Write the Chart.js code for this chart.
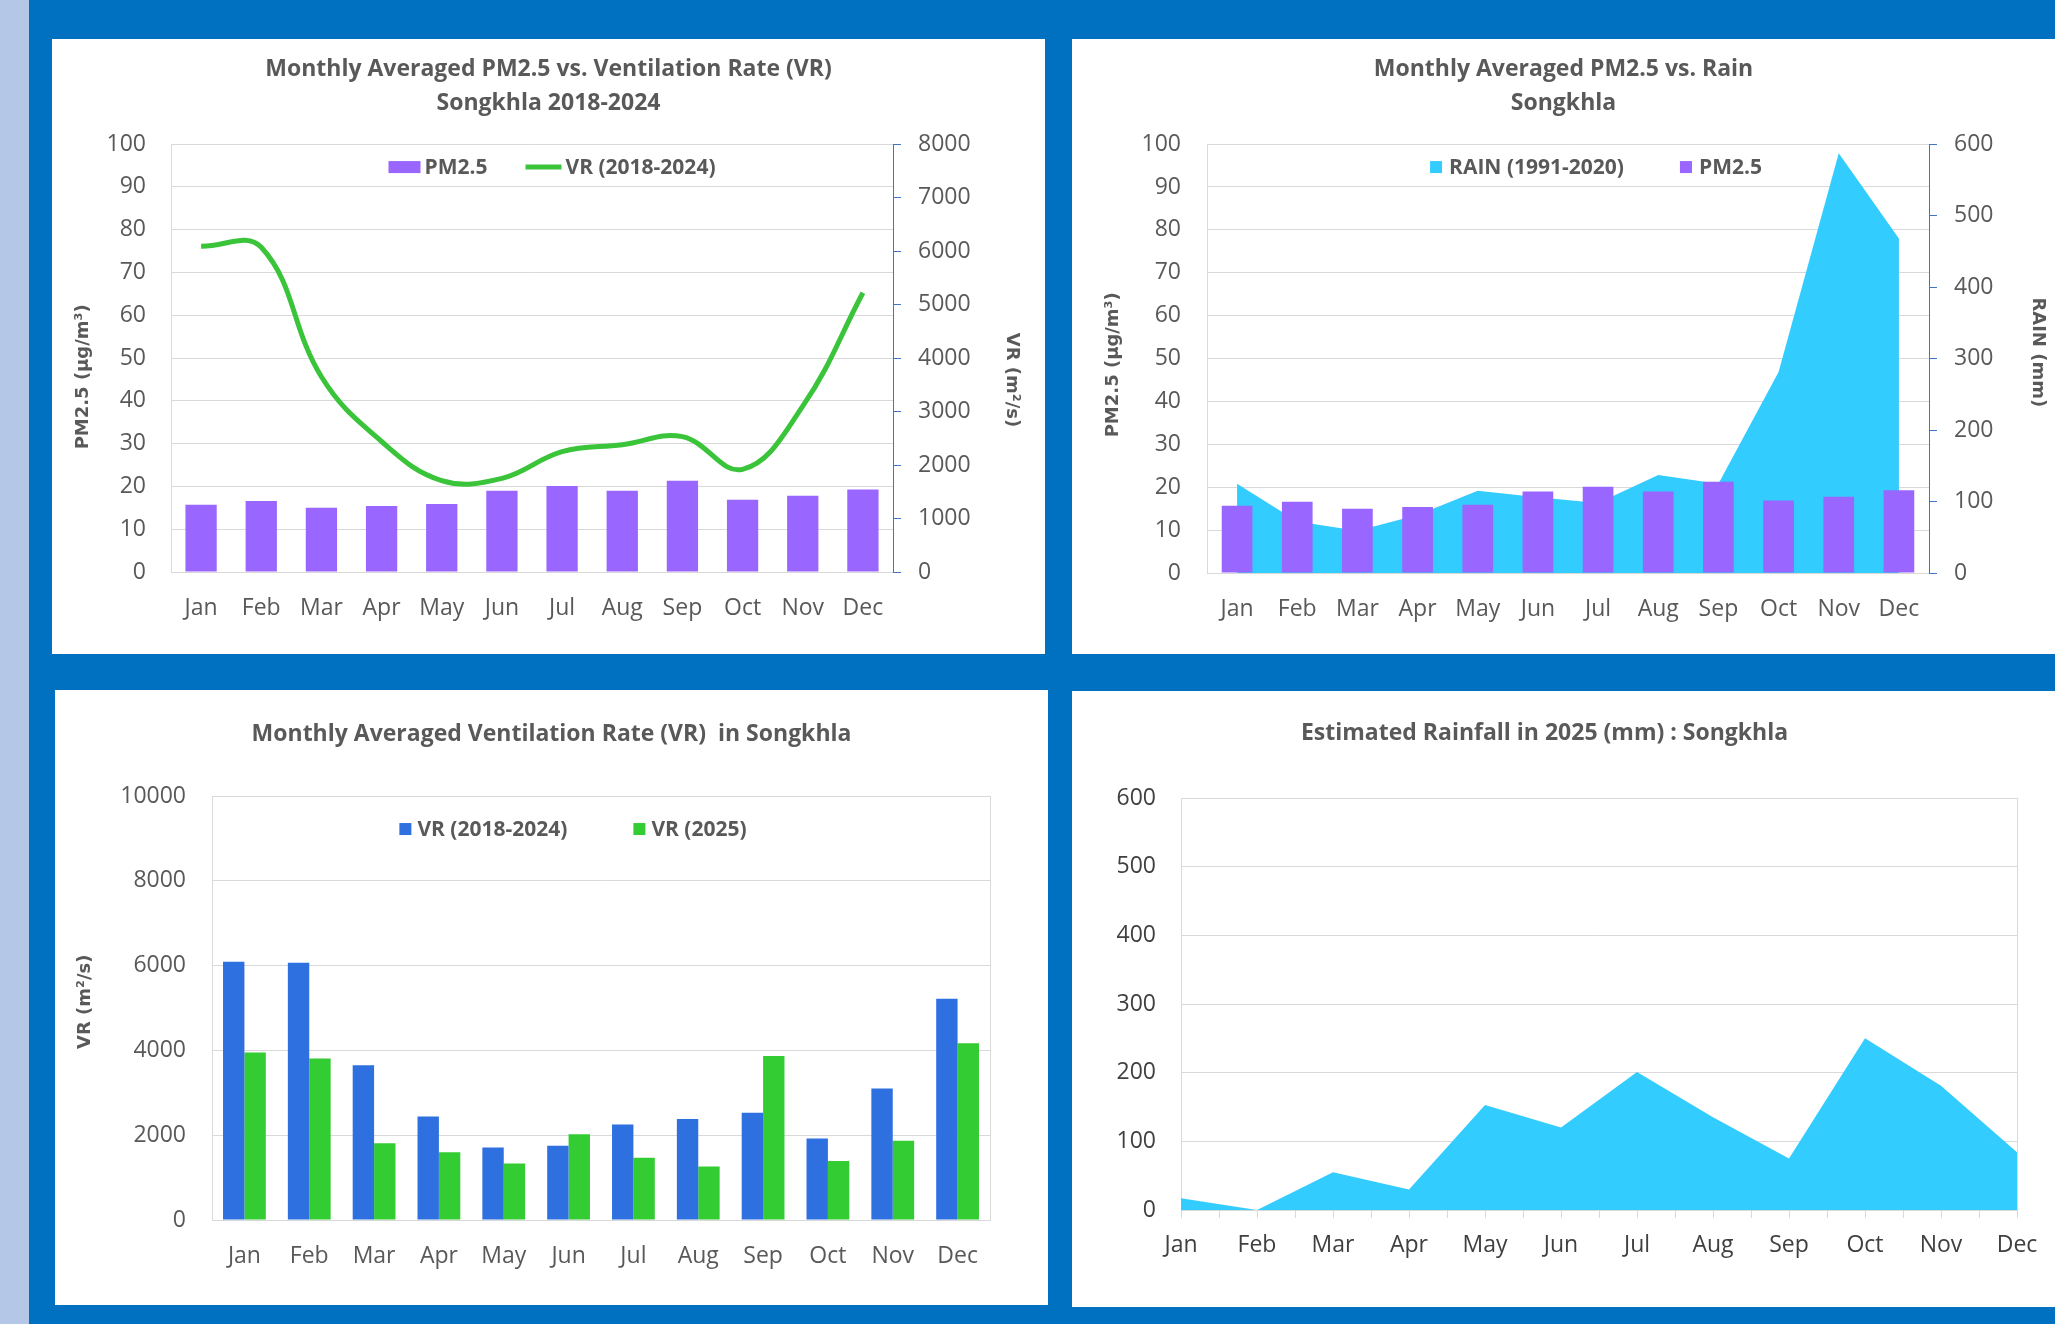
<!DOCTYPE html>
<html><head><meta charset="utf-8">
<script src="https://cdn.jsdelivr.net/npm/chart.js@4.4.1/dist/chart.umd.min.js"></script>
<style>
html,body{margin:0;padding:0;width:2055px;height:1324px;overflow:hidden;background:#0070c0;}
#strip{position:absolute;left:0;top:0;width:29px;height:1324px;background:#b4c7e7;}
.panel{position:absolute;background:#fff;overflow:hidden;}
canvas{display:block;}
</style></head><body>
<div id="strip"></div>
<div class="panel" style="left:52px;top:39px;width:993px;height:615px"><canvas id="c1" width="993" height="615"></canvas></div>
<div class="panel" style="left:1072px;top:39px;width:983px;height:615px"><canvas id="c2" width="983" height="615"></canvas></div>
<div class="panel" style="left:55px;top:690px;width:993px;height:615px"><canvas id="c3" width="993" height="615"></canvas></div>
<div class="panel" style="left:1072px;top:691px;width:983px;height:616px"><canvas id="c4" width="983" height="616"></canvas></div>
<script>
const months = ['Jan','Feb','Mar','Apr','May','Jun','Jul','Aug','Sep','Oct','Nov','Dec'];
const pm25 = [15.7,16.6,15.0,15.4,15.9,19.0,20.1,19.0,21.3,16.9,17.8,19.3];
const vr20182024 = [6090,6070,3650,2440,1710,1750,2250,2380,2530,1920,3100,5220];
const vr2025 = [3950,3810,1810,1600,1330,2020,1470,1260,3870,1390,1870,4170];
const rain19912020 = [125,72,59,81,115,106,98,137,125,281,587,468];
const rain2025 = [17,0,55,30,153,120,201,135,75,250,181,84];

const title1 = ['Monthly Averaged PM2.5 vs. Ventilation Rate (VR)','Songkhla 2018-2024'];
const title2 = ['Monthly Averaged PM2.5 vs. Rain','Songkhla'];
const title3 = 'Monthly Averaged Ventilation Rate (VR)  in Songkhla';
const title4 = 'Estimated Rainfall in 2025 (mm) : Songkhla';

const FONT = "'Open Sans', Lato, sans-serif";
const GRAY = '#595959';
const GRID = '#d9d9d9';
const AXBLUE = '#4472c4';
const tickFont = {family: FONT, size: 23};
const titleFont = {family: FONT, size: 23, weight: 'bold', lineHeight: 1.48};
const axTitleFont = {family: "'DejaVu Sans'", size: 18, weight: 'bold', lineHeight: 1.2};
const plain = v => String(v);
const sp = n => ' '.repeat(n);

Chart.defaults.animation = false;
Chart.defaults.responsive = false;
Chart.defaults.plugins.tooltip.enabled = false;
Chart.defaults.plugins.legend.display = false;

// Legend drawn horizontally inside the plot area, from the datasets' own labels and colours
const insideLegend = {
  id: 'insideLegend',
  afterDatasetsDraw(chart, args, o) {
    const {ctx, chartArea} = chart;
    const items = o.order.map(i => chart.data.datasets[i]);
    ctx.save();
    ctx.font = `bold ${o.size}px ${FONT}`;
    const symW = d => (d.type === 'line' && !d.fill) ? o.lineW : o.boxW;
    const widths = items.map(d => symW(d) + o.textGap + ctx.measureText(d.label).width);
    const total = widths.reduce((a, b) => a + b, 0) + o.itemGap * (items.length - 1);
    let x = (chartArea.left + chartArea.right) / 2 + o.dx - total / 2;
    const y = chartArea.top + o.dy;
    items.forEach(d => {
      if (d.type === 'line' && !d.fill) {
        ctx.strokeStyle = d.borderColor; ctx.lineWidth = d.borderWidth; ctx.lineCap = 'butt';
        ctx.beginPath(); ctx.moveTo(x, y); ctx.lineTo(x + o.lineW, y); ctx.stroke();
      } else {
        ctx.fillStyle = d.backgroundColor;
        ctx.fillRect(x, y - o.boxH / 2, o.boxW, o.boxH);
      }
      x += symW(d) + o.textGap;
      ctx.fillStyle = GRAY; ctx.textBaseline = 'middle'; ctx.textAlign = 'left';
      ctx.fillText(d.label, x, y + 1);
      x += ctx.measureText(d.label).width + o.itemGap;
    });
    ctx.restore();
  }
};

// Chart 1
new Chart(document.getElementById('c1'), {
  type: 'bar',
  data: {labels: months, datasets: [
    {type: 'bar', label: 'PM2.5', data: pm25, backgroundColor: '#9966ff', yAxisID: 'y', order: 1,
     categoryPercentage: 0.52, barPercentage: 1},
    {type: 'line', label: 'VR (2018-2024)', data: vr20182024, borderColor: '#3ac43a', backgroundColor: '#3ac43a',
     borderWidth: 5, tension: 0.4, pointRadius: 0, yAxisID: 'y1', order: 0}
  ]},
  plugins: [insideLegend],
  options: {
    layout: {padding: 0},
    plugins: {
      title: {display: true, text: title1, font: titleFont, color: GRAY, padding: {top: 13, bottom: 24}},
      insideLegend: {order: [0, 1], size: 21, boxW: 32, boxH: 12, lineW: 36, textGap: 4, itemGap: 38, dx: 20, dy: 23}
    },
    scales: {
      x: {grid: {display: false}, border: {display: false}, ticks: {font: tickFont, color: GRAY, padding: 15, maxRotation: 0},
          afterFit: s => { s.height = 82; }},
      y: {position: 'left', min: 0, max: 100, ticks: {stepSize: 10, padding: 25, font: tickFont, color: GRAY, callback: plain},
          grid: {color: GRID, drawTicks: false}, border: {color: GRID},
          title: {display: true, text: 'PM2.5 (μg/m³)' + sp(6), font: axTitleFont, color: GRAY, padding: {top: 21, bottom: 0}},
          afterFit: s => { s.width = 119; }},
      y1: {position: 'right', min: 0, max: 8000, ticks: {stepSize: 1000, padding: 17, font: tickFont, color: GRAY, callback: plain},
          grid: {drawOnChartArea: false, color: AXBLUE, tickLength: 8}, border: {color: AXBLUE},
          title: {display: true, text: sp(7) + 'VR (m²/s)', font: axTitleFont, color: GRAY, padding: {top: 23, bottom: 0}},
          afterFit: s => { s.width = 152; }}
    }
  }
});

// Chart 2
new Chart(document.getElementById('c2'), {
  type: 'bar',
  data: {labels: months, datasets: [
    {type: 'line', label: 'RAIN (1991-2020)', data: rain19912020, borderWidth: 0, borderColor: '#33ccff',
     backgroundColor: '#33ccff', fill: 'origin', tension: 0, pointRadius: 0, yAxisID: 'y1', order: 1},
    {type: 'bar', label: 'PM2.5', data: pm25, backgroundColor: '#9966ff', yAxisID: 'y', order: 0,
     categoryPercentage: 0.51, barPercentage: 1}
  ]},
  plugins: [insideLegend],
  options: {
    layout: {padding: 0},
    plugins: {
      title: {display: true, text: title2, font: titleFont, color: GRAY, padding: {top: 13, bottom: 24}},
      insideLegend: {order: [0, 1], size: 21, boxW: 12, boxH: 12, lineW: 12, textGap: 7, itemGap: 56, dx: 28, dy: 23}
    },
    scales: {
      x: {grid: {display: false}, border: {display: false}, ticks: {font: tickFont, color: GRAY, padding: 15, maxRotation: 0},
          afterFit: s => { s.height = 81; }},
      y: {position: 'left', min: 0, max: 100, ticks: {stepSize: 10, padding: 26, font: tickFont, color: GRAY, callback: plain},
          grid: {color: GRID, drawTicks: false}, border: {color: GRID},
          title: {display: true, text: 'PM2.5 (μg/m³)' + sp(2), font: axTitleFont, color: GRAY, padding: {top: 31, bottom: 0}},
          afterFit: s => { s.width = 135; }},
      y1: {position: 'right', min: 0, max: 600, ticks: {stepSize: 100, padding: 17, font: tickFont, color: GRAY, callback: plain},
          grid: {drawOnChartArea: false, color: AXBLUE, tickLength: 8}, border: {color: AXBLUE},
          title: {display: true, text: 'RAIN (mm)' + sp(2), font: axTitleFont, color: GRAY, padding: {top: 7, bottom: 0}},
          afterFit: s => { s.width = 126; }}
    }
  }
});

// Chart 3
new Chart(document.getElementById('c3'), {
  type: 'bar',
  data: {labels: months, datasets: [
    {label: 'VR (2018-2024)', data: vr20182024, backgroundColor: '#2e70e0', categoryPercentage: 0.66, barPercentage: 1},
    {label: 'VR (2025)', data: vr2025, backgroundColor: '#33cc33', categoryPercentage: 0.66, barPercentage: 1}
  ]},
  plugins: [insideLegend],
  options: {
    layout: {padding: 0},
    plugins: {
      title: {display: true, text: title3, font: titleFont, color: GRAY, padding: {top: 27, bottom: 45}},
      insideLegend: {order: [0, 1], size: 21, boxW: 12, boxH: 12, lineW: 12, textGap: 6, itemGap: 66, dx: -28, dy: 33}
    },
    scales: {
      x: {grid: {display: false}, border: {color: GRID}, ticks: {font: tickFont, color: GRAY, padding: 15, maxRotation: 0},
          afterFit: s => { s.height = 85; }},
      y: {position: 'left', min: 0, max: 10000, ticks: {stepSize: 2000, padding: 26, font: tickFont, color: GRAY, callback: plain},
          grid: {color: GRID, drawTicks: false}, border: {color: GRID},
          title: {display: true, text: sp(2) + 'VR (m²/s)', font: axTitleFont, color: GRAY, padding: {top: 20, bottom: 0}},
          afterFit: s => { s.width = 157; }},
      yr: {position: 'right', display: true, ticks: {display: false}, grid: {drawOnChartArea: false, drawTicks: false},
          border: {color: GRID}, afterFit: s => { s.width = 58; }}
    }
  }
});

// Chart 4
new Chart(document.getElementById('c4'), {
  type: 'line',
  data: {datasets: [
    {label: 'Rainfall 2025', data: rain2025.map((v, i) => ({x: i, y: v})), borderWidth: 0, borderColor: '#33ccff',
     backgroundColor: '#33ccff', fill: 'origin', tension: 0, pointRadius: 0}
  ]},
  options: {
    layout: {padding: {right: 38}},
    plugins: {
      title: {display: true, text: title4, font: titleFont, color: GRAY, padding: {top: 25, bottom: 48}}
    },
    scales: {
      x: {type: 'linear', min: 0, max: 11,
          ticks: {stepSize: 0.5, autoSkip: false, maxRotation: 0, font: tickFont, color: '#404040', padding: 14,
                  callback: v => Number.isInteger(v) ? months[v] : ''},
          grid: {color: c => (c.tick && c.tick.value === 11) ? GRID : 'rgba(0,0,0,0)', tickColor: GRID, tickLength: 8, drawTicks: true},
          border: {color: GRID},
          afterFit: s => { s.height = 97; }},
      y: {min: 0, max: 600, ticks: {stepSize: 100, padding: 25, font: tickFont, color: '#404040', callback: plain},
          grid: {color: GRID, drawTicks: false}, border: {color: GRID},
          afterFit: s => { s.width = 109; }}
    }
  }
});
</script>
</body></html>
